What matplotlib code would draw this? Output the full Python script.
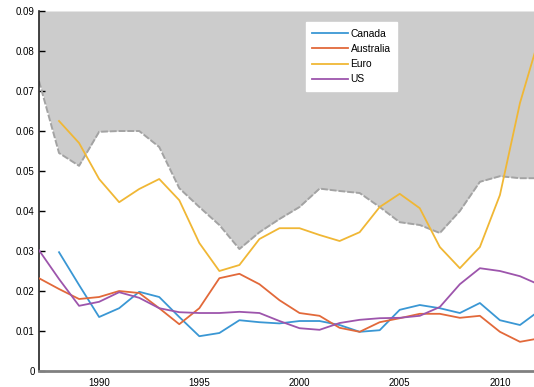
import matplotlib

matplotlib.use("Agg")
import matplotlib.pyplot as plt

plt.rcParams["font.family"] = ["Liberation Sans", "DejaVu Sans"]

years = list(range(1987, 2013))

# upper bound of the shaded band
upper = [0.0725, 0.0545, 0.0513, 0.0598, 0.060, 0.060, 0.056, 0.0457, 0.041, 0.0365,
         0.0305, 0.0347, 0.038, 0.041, 0.0456, 0.045, 0.0445, 0.041, 0.0372, 0.0365,
         0.0345, 0.040, 0.0473, 0.0487, 0.0482, 0.0482]

canada = [None, 0.0297, 0.0215, 0.0135, 0.0157, 0.0198, 0.0185, 0.0135, 0.0087, 0.0095,
          0.0127, 0.0122, 0.0119, 0.0125, 0.0125, 0.0115, 0.0098, 0.0102, 0.0153, 0.0165,
          0.0157, 0.0145, 0.017, 0.0127, 0.0115, 0.0152]
australia = [0.0232, 0.0205, 0.018, 0.0185, 0.020, 0.0195, 0.0157, 0.0117, 0.0157, 0.0232,
             0.0243, 0.0217, 0.0177, 0.0145, 0.0138, 0.0108, 0.0098, 0.0122, 0.0132, 0.0143,
             0.0143, 0.0133, 0.0138, 0.0098, 0.0073, 0.0082]
euro = [None, 0.0625, 0.057, 0.048, 0.0422, 0.0455, 0.048, 0.0427, 0.032, 0.025,
        0.0265, 0.033, 0.0357, 0.0357, 0.034, 0.0325, 0.0347, 0.041, 0.0443, 0.0407,
        0.031, 0.0257, 0.031, 0.044, 0.067, 0.084]
us = [0.0302, 0.023, 0.0163, 0.0173, 0.0197, 0.0183, 0.0157, 0.0147, 0.0145, 0.0145,
      0.0148, 0.0145, 0.0125, 0.0107, 0.0103, 0.012, 0.0128, 0.0132, 0.0133, 0.0138,
      0.016, 0.0217, 0.0257, 0.025, 0.0237, 0.0215]

labels = ["Canada", "Australia", "Euro", "US"]
colors = ["#3a97d4", "#e2693a", "#f0b735", "#9d55ac"]


def clean(values):
    xs = [y for y, v in zip(years, values) if v is not None]
    ys = [v for v in values if v is not None]
    return xs, ys


fig = plt.figure(figsize=(5.34, 3.87), dpi=100)
ax = fig.add_axes([0.073, 0.0413, 0.927, 0.9303])

ax.fill_between(years, upper, 0.09, color="#cccccc", linewidth=0, zorder=1)
ax.plot(years, upper, color="#a3a3a3", linewidth=1.4, linestyle=(0, (3.5, 1)), zorder=2)

for values, label, color in zip([canada, australia, euro, us], labels, colors):
    xs, ys = clean(values)
    ax.plot(xs, ys, color=color, linewidth=1.3, label=label, zorder=3)

ax.set_xlim(1987, 2011.7)
ax.set_ylim(0, 0.09)
ax.set_xticks([1990, 1995, 2000, 2005, 2010])
ax.set_yticks([0, 0.01, 0.02, 0.03, 0.04, 0.05, 0.06, 0.07, 0.08, 0.09])
ax.set_yticklabels(["0", "0.01", "0.02", "0.03", "0.04", "0.05", "0.06", "0.07", "0.08", "0.09"])

for side in ["top", "right"]:
    ax.spines[side].set_visible(False)
ax.spines["left"].set_color("#222222")
ax.spines["left"].set_linewidth(1.2)
ax.spines["bottom"].set_color("#808080")
ax.spines["bottom"].set_linewidth(2)

ax.tick_params(axis="y", direction="in", length=4, width=1, pad=3, labelsize=7)
ax.tick_params(axis="x", length=0, pad=5, labelsize=7)

leg = ax.legend(loc="upper left", bbox_to_anchor=(0.539, 0.969), fontsize=7.4,
                frameon=True, fancybox=False, handlelength=3.5, handletextpad=0.2,
                labelspacing=0.5, borderpad=0.65, borderaxespad=0)
leg.get_frame().set_facecolor("white")
leg.get_frame().set_edgecolor("white")
leg.get_frame().set_alpha(1)

fig.savefig("out.png", dpi=100)
plt.close(fig)
